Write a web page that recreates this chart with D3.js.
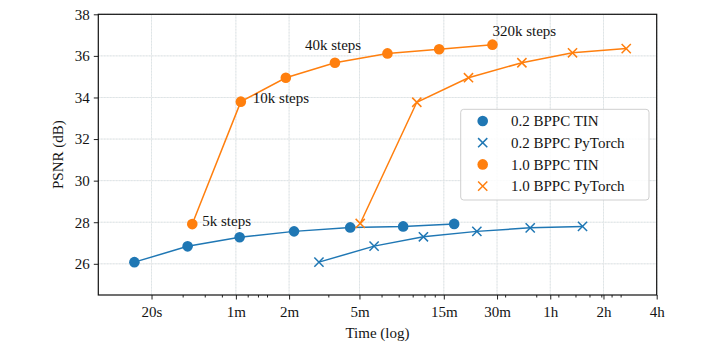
<!DOCTYPE html>
<html>
<head>
<meta charset="utf-8">
<script src="https://cdn.jsdelivr.net/npm/d3@7"></script>
<style>
  html,body{margin:0;padding:0;background:#fff;}
  svg{display:block;}
  svg text{font-family:"Liberation Serif","DejaVu Serif",serif !important;fill:#141414;}
</style>
</head>
<body>
<div id="chart"></div>
<script>
// data (time in seconds, PSNR in dB)
const tin02T=[16,32,63,128,266,530,1030];
const tin02V=[26.08,26.84,27.28,27.56,27.75,27.80,27.92];
const pt02T=[177,363,690,1384,2773,5480];
const pt02V=[26.08,26.85,27.30,27.56,27.73,27.80];
const tin10T=[34,64,115,218,432,847,1696];
const tin10V=[27.91,33.80,34.95,35.67,36.12,36.32,36.54];
const pt10T=[303,633,1241,2488,4811,9683];
const pt10V=[27.94,33.77,34.95,35.67,36.15,36.35];

const tickSecs=[20,60,120,300,900,1800,3600,7200,14400];
const tickLabels=["20s","1m","2m","5m","15m","30m","1h","2h","4h"];
const yTicks=[26,28,30,32,34,36,38];
const stepLabels=["5k steps","10k steps","40k steps","320k steps"];
const stepIdx=[0,1,3,6];

const BLUE="#1f77b4",ORANGE="#ff7f0e";
const series=[
  {name:"0.2 BPPC TIN",t:tin02T,v:tin02V,c:BLUE,m:"o"},
  {name:"0.2 BPPC PyTorch",t:pt02T,v:pt02V,c:BLUE,m:"x"},
  {name:"1.0 BPPC TIN",t:tin10T,v:tin10V,c:ORANGE,m:"o"},
  {name:"1.0 BPPC PyTorch",t:pt10T,v:pt10V,c:ORANGE,m:"x"}
];

const W=708,H=348;
const M={l:98.3,r:51.3,t:14.3,b:53};
const x=d3.scaleLog().domain([10,14400]).range([M.l,W-M.r]);
const y=d3.scaleLinear().domain([24.5,38]).range([H-M.b,M.t]);

const svg=d3.select("#chart").append("svg").attr("width",W).attr("height",H);

// ── GRID ─────────────────────────────
const grid=svg.append("g");
const gl=(x1,y1,x2,y2)=>{
  grid.append("line").attr("x1",x1).attr("y1",y1).attr("x2",x2).attr("y2",y2)
    .attr("stroke","#ececec").attr("stroke-width",1);
  grid.append("line").attr("x1",x1).attr("y1",y1).attr("x2",x2).attr("y2",y2)
    .attr("stroke","#d6e2e6").attr("stroke-width",1).attr("stroke-dasharray","1,2");
};
tickSecs.forEach(s=>gl(x(s),M.t,x(s),H-M.b));
yTicks.forEach(v=>gl(M.l,y(v),W-M.r,y(v)));

// ── AXES ─────────────────────────────
const minor=[];
[1,10,100,1000,10000].forEach(d=>{for(let k=2;k<=9;k++){const s=k*d;if(s>10&&s<14400&&!tickSecs.includes(s))minor.push(s);}});

const xa=svg.append("g").attr("transform",`translate(0,${H-M.b})`)
  .call(d3.axisBottom(x).tickValues(tickSecs).tickFormat((d,i)=>tickLabels[i]).tickSize(4.5).tickPadding(4));
const xm=svg.append("g").attr("transform",`translate(0,${H-M.b})`)
  .call(d3.axisBottom(x).tickValues(minor).tickFormat("").tickSize(2.5));
const ya=svg.append("g").attr("transform",`translate(${M.l},0)`)
  .call(d3.axisLeft(y).tickValues(yTicks).tickSize(4.5).tickPadding(4));
[xa,xm,ya].forEach(a=>{
  a.attr("font-family",null);
  a.select(".domain").remove();
  a.selectAll("line").attr("stroke","#222").attr("stroke-width",1);
  a.selectAll("text").attr("font-size",15);
});
xa.selectAll("text").attr("dy","0.9em");

svg.append("rect").attr("x",M.l).attr("y",M.t).attr("width",W-M.r-M.l).attr("height",H-M.b-M.t)
  .attr("fill","none").attr("stroke","#111").attr("stroke-width",1.2);

svg.append("text").attr("x",(M.l+W-M.r)/2).attr("y",338).attr("text-anchor","middle")
  .attr("font-size",15).text("Time (log)");
svg.append("text").attr("transform",`translate(63,${(M.t+H-M.b)/2}) rotate(-90)`)
  .attr("text-anchor","middle").attr("font-size",15).text("PSNR (dB)");

// ── SERIES ───────────────────────────
const marker=(g,m,c,cx,cy)=>{
  if(m==="o"){
    g.append("circle").attr("cx",cx).attr("cy",cy).attr("r",5.3).attr("fill",c);
  }else{
    const s=4.6;
    g.append("path").attr("d",`M${cx-s},${cy-s}L${cx+s},${cy+s}M${cx-s},${cy+s}L${cx+s},${cy-s}`)
      .attr("stroke",c).attr("stroke-width",1.5).attr("fill","none");
  }
};
const line=d3.line().x(d=>x(d[0])).y(d=>y(d[1]));
series.forEach(s=>{
  const pts=s.t.map((t,i)=>[t,s.v[i]]);
  const g=svg.append("g");
  g.append("path").attr("d",line(pts)).attr("fill","none").attr("stroke",s.c).attr("stroke-width",1.5);
  pts.forEach(p=>marker(g,s.m,s.c,x(p[0]),y(p[1])));
});

// ── STEP LABELS ──────────────────────
const off=[[10,0],[12,0],[-30,-14],[0,-10]];
stepIdx.forEach((k,i)=>{
  const px=x(tin10T[k]),py=y(tin10V[k]);
  svg.append("text").attr("x",px+off[i][0]).attr("y",py+off[i][1]).attr("dy","0.1em")
    .attr("font-size",15).text(stepLabels[i]);
});

// ── LEGEND ───────────────────────────
const lg=svg.append("g");
lg.append("rect").attr("x",460.7).attr("y",109.3).attr("width",188.3).attr("height",90.7).attr("rx",3)
  .attr("fill","white").attr("fill-opacity",0.85).attr("stroke","#cfcfcf").attr("stroke-width",1);
series.forEach((s,i)=>{
  const cy=121+i*21.7;
  marker(lg,s.m,s.c,482.7,cy);
  lg.append("text").attr("x",511).attr("y",cy).attr("dy","0.35em").attr("font-size",15).text(s.name);
});
</script>
</body>
</html>
